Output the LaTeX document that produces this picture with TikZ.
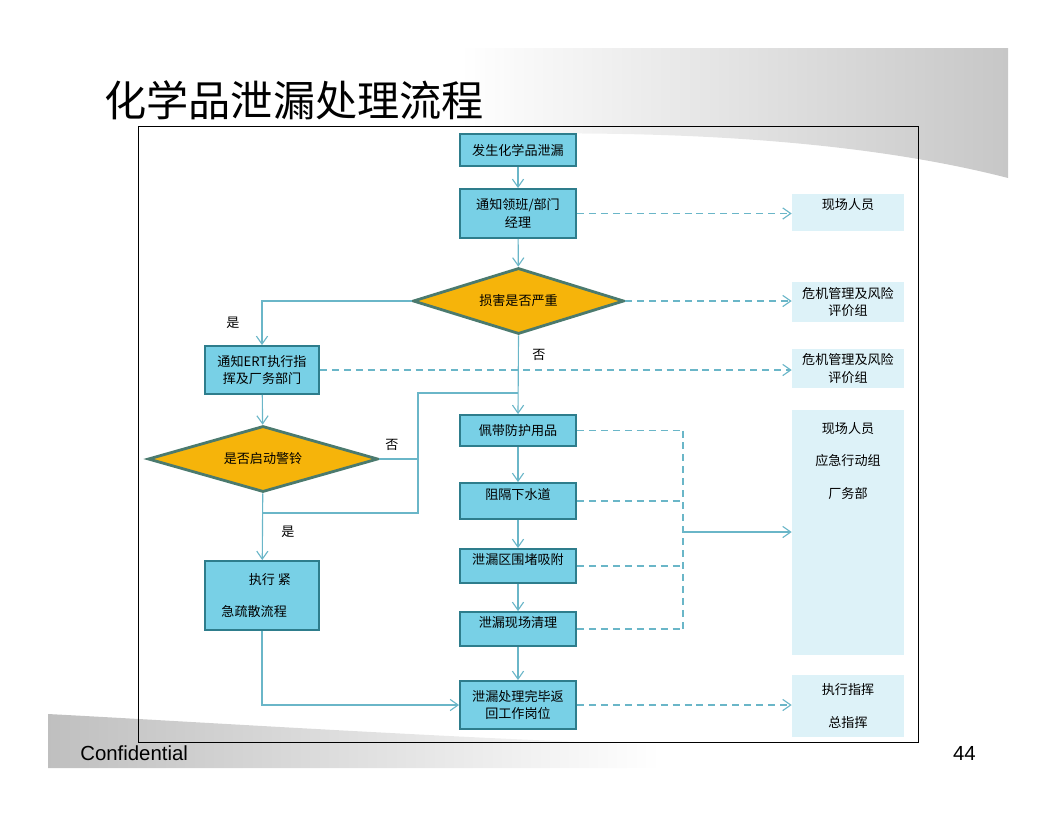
\documentclass[tikz,border=0pt]{standalone}
\usepackage{fontspec}
\setmainfont{Liberation Sans}
\newfontfamily\cjk{Noto Sans CJK SC}
\usetikzlibrary{arrows.meta,positioning,shapes.geometric}
\definecolor{boxfill}{HTML}{78D0E6}
\definecolor{boxline}{HTML}{2E7D8C}
\definecolor{diafill}{HTML}{F6B40A}
\definecolor{dialine}{HTML}{4B7A6E}
\definecolor{sidefill}{HTML}{DDF2F8}
\definecolor{linkcol}{HTML}{6AB6C8}

\begin{document}
\begin{tikzpicture}[
  x=0.025cm, y=-0.025cm,
  every node/.style={font=\cjk\fontsize{9.3}{12.5}\selectfont},
  process/.style={rectangle, draw=boxline, line width=1.3pt, fill=boxfill, align=center, minimum width=2.9cm, inner sep=1pt},
  decision/.style={diamond, draw=dialine, line width=2pt, fill=diafill, aspect=3.2, inner sep=1pt},
  side/.style={rectangle, fill=sidefill, align=center, minimum width=2.8cm},
  link/.style={draw=linkcol, line width=0.8pt},
  arrow/.style={link, -{Straight Barb[length=2mm,width=2.8mm]}},
  dashlink/.style={link, dash pattern=on 5pt off 3.5pt},
  dasharrow/.style={dashlink, -{Straight Barb[length=2mm,width=2.8mm]}}
]
\useasboundingbox (0,0) rectangle (1056,816);
% slide background
\shade[left color=white, right color=black!22] (460,48) -- (1008,48) -- (1008,178) .. controls (880,145) and (700,128) .. (460,135) -- cycle;
\shade[left color=black!25, right color=white] (48,714) .. controls (200,722) and (450,738) .. (660,745) -- (660,768) -- (48,768) -- cycle;
\draw[black, line width=0.6pt] (138,126) rectangle (918,742);

\node[font=\cjk\fontsize{30}{36}\selectfont, anchor=west, inner sep=0] (title) at (104,100) {化学品泄漏处理流程};
\node[font=\fontsize{14.5}{17}\selectfont, anchor=west, inner sep=0] (conf) at (80,753) {Confidential};
\node[font=\fontsize{14.5}{17}\selectfont, anchor=east, inner sep=0] (page) at (976,753) {44};

% main flow
\node[process, minimum height=0.8cm] (start) at (518,150) {发生化学品泄漏};
\node[process, minimum height=1.225cm] (notify) at (518,213.5) {通知领班/部门\\经理};
\node[decision, minimum width=5.275cm, minimum height=1.65cm] (harm) at (518.5,301) {损害是否严重};
\node[process, minimum width=2.85cm, minimum height=1.2cm] (ert) at (262,370) {通知ERT执行指\\挥及厂务部门};
\node[decision, minimum width=5.75cm, minimum height=1.65cm] (alarm) at (263,459) {是否启动警铃};
\node[process, minimum width=2.85cm, minimum height=1.725cm] (evac) at (262,595.5) {\hspace*{1.2em}执行\ 紧\\[10pt]急疏散流程\hspace*{1.2em}};
\node[process, minimum height=0.775cm] (ppe) at (518,430.5) {佩带防护用品};
\node[process, minimum height=0.9cm, text depth=3.5mm] (sewer) at (518,501) {阻隔下水道};
\node[process, minimum height=0.85cm, text depth=3.5mm] (dike) at (518,566) {泄漏区围堵吸附};
\node[process, minimum height=0.85cm, text depth=3.5mm] (clean) at (518,629) {泄漏现场清理};
\node[process, minimum height=1.2cm] (back) at (518,705) {泄漏处理完毕返\\回工作岗位};

% responsible groups
\node[side, minimum height=0.925cm] (crew) at (848,212.5) {};
\node[below=0pt of crew.north] (crewtext) {现场人员};
\node[side, minimum height=0.9cm] (risk) at (848,302) {危机管理及风险\\评价组};
\node[side, minimum height=0.975cm] (risk2) at (848,368.5) {危机管理及风险\\评价组};
\node[side, minimum height=6.125cm] (team) at (848,532.5) {};
\node[below=2mm of team.north, align=center] (teamtext) {现场人员\\[10.5pt]应急行动组\\[10.5pt]厂务部};
\node[side, minimum height=1.55cm] (cmd) at (848,706) {执行指挥\\[11pt]总指挥};

\draw[arrow] (start) -- (notify);
\draw[arrow] (notify) -- (harm);
\draw[dasharrow] (notify.east) -- (notify.east -| crew.west);
\draw[dasharrow] (harm.east) -- (harm.east -| risk.west);
\draw[arrow] (harm.west) -| (ert.north);
\draw[arrow] (harm.south) -- (ppe.north);
\draw[dasharrow] (ert.east) -- (ert.east -| risk2.west);
\draw[arrow] (ert) -- (alarm);
\draw[arrow] (alarm) -- (evac);

\coordinate (nojoin) at (418,393);
\coordinate (yesjoin) at (418,513);
\draw[link] (alarm.east) -- (alarm.east -| nojoin);
\draw[link] (ppe.north |- nojoin) -- (nojoin) -- (yesjoin) -- (yesjoin -| alarm.south);

\draw[arrow] (ppe) -- (sewer);
\draw[arrow] (sewer) -- (dike);
\draw[arrow] (dike) -- (clean);
\draw[arrow] (clean) -- (back);

\coordinate (bus) at (683,532);
\foreach \n in {ppe,sewer,dike,clean}
  \draw[dashlink] (\n.east) -- (\n.east -| bus);
\draw[dashlink] (ppe.east -| bus) -- (clean.east -| bus);
\draw[arrow] (bus) -- (bus -| team.west);

\draw[arrow] (evac.south) |- (back.west);
\draw[dasharrow] (back.east) -- (back.east -| cmd.west);

% branch labels
\node (yes1) at (233,323) {是};
\node (no1) at (539,355) {否};
\node (no2) at (392,445) {否};
\node (yes2) at (288,532) {是};
\end{tikzpicture}
\end{document}
